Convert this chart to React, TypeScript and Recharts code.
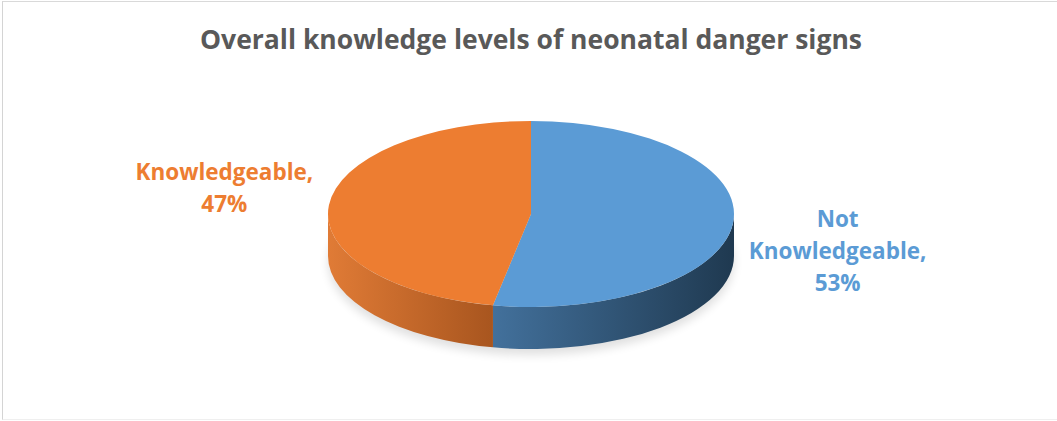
import { PieChart, Pie } from 'recharts';

const categories = ['Not Knowledgeable', 'Knowledgeable'];
const shares = [53, 47];
const sliceColors = ['#5B9BD5', '#ED7D31'];
const sideGradients = ['sideBlue', 'sideOrange'];

const data = categories.map((name, i) => ({ name, value: shares[i] }));

const WIDTH = 1057;
const HEIGHT = 421;
const CX = 531;
const CY = 214;
const RADIUS = 203;
const TILT = 0.458; // vertical squash of the disc
const DEPTH = 42; // thickness of the disc

const FONT = '"Open Sans", "Noto Sans", sans-serif';

const rad = (a: number) => (a * Math.PI) / 180;
const pt = (cx: number, cy: number, rx: number, ry: number, a: number, dy = 0) =>
  `${cx + rx * Math.cos(rad(a))},${cy - ry * Math.sin(rad(a)) + dy}`;

// draws one slice as a tilted disc wedge: front wall first, then the top face
function Slice3D(props: any) {
  const { cx, cy, outerRadius, startAngle, endAngle, index } = props;
  const rx = outerRadius;
  const ry = outerRadius * TILT;
  const hi = Math.max(startAngle, endAngle);
  const lo = Math.min(startAngle, endAngle);
  const large = hi - lo > 180 ? 1 : 0;

  const walls: string[] = [];
  for (const k of [-1, 0, 1]) {
    const a0 = Math.max(lo, -180 + 360 * k);
    const a1 = Math.min(hi, 360 * k);
    if (a1 - a0 > 0.01) {
      walls.push(
        `M${pt(cx, cy, rx, ry, a1)} A${rx},${ry} 0 0 1 ${pt(cx, cy, rx, ry, a0)} ` +
          `L${pt(cx, cy, rx, ry, a0, DEPTH)} A${rx},${ry} 0 0 0 ${pt(cx, cy, rx, ry, a1, DEPTH)} Z`
      );
    }
  }

  const top =
    `M${cx},${cy} L${pt(cx, cy, rx, ry, hi)} ` +
    `A${rx},${ry} 0 ${large} 1 ${pt(cx, cy, rx, ry, lo)} Z`;

  return (
    <g>
      {walls.map((d, i) => (
        <path key={i} d={d} fill={`url(#${sideGradients[index]})`} />
      ))}
      <path d={top} fill={sliceColors[index]} />
    </g>
  );
}

function renderLabel(props: any) {
  const { cx, cy, midAngle, percent, name, index } = props;
  const x = cx + (RADIUS + 105) * Math.cos(rad(midAngle));
  const yc = cy + 6 - 340 * Math.sin(rad(midAngle));
  const words = name.split(' ');
  const lines = [...words.slice(0, -1), `${words[words.length - 1]},`, `${Math.round(percent * 100)}%`];
  const first = yc - ((lines.length - 1) * 32) / 2 + 7.5;
  return (
    <text
      x={x}
      y={first}
      textAnchor="middle"
      fill={sliceColors[index]}
      fontFamily={FONT}
      fontWeight={700}
      fontSize={22.5}
    >
      {lines.map((line, i) => (
        <tspan key={i} x={x} dy={i === 0 ? 0 : 32}>
          {line}
        </tspan>
      ))}
    </text>
  );
}

export default function App() {
  return (
    <div
      style={{
        position: 'absolute',
        left: 0,
        top: 0,
        width: WIDTH,
        height: HEIGHT,
        background: '#fff',
        overflow: 'hidden',
      }}
    >
      <div
        style={{
          position: 'absolute',
          left: 2,
          top: 1,
          width: WIDTH,
          height: 417,
          borderLeft: '1px solid #d4d4d4',
          borderTop: '1px solid #d9d9d9',
          borderBottom: '1px solid #efefef',
        }}
      />
      <PieChart width={WIDTH} height={HEIGHT} margin={{ top: 0, right: 0, bottom: 0, left: 0 }}>
        <defs>
          <linearGradient id="sideBlue" gradientUnits="userSpaceOnUse" x1={CX - RADIUS} y1="0" x2={CX + RADIUS} y2="0">
            <stop offset="38%" stopColor="#44739f" />
            <stop offset="100%" stopColor="#1f3950" />
          </linearGradient>
          <linearGradient id="sideOrange" gradientUnits="userSpaceOnUse" x1={CX - RADIUS} y1="0" x2={CX + RADIUS} y2="0">
            <stop offset="0%" stopColor="#e07b36" />
            <stop offset="40%" stopColor="#a9561f" />
          </linearGradient>
          <filter id="discShadow" x="-20%" y="-20%" width="140%" height="140%">
            <feGaussianBlur stdDeviation="5" />
          </filter>
        </defs>
        <ellipse
          cx={CX}
          cy={CY + DEPTH + 6}
          rx={RADIUS}
          ry={RADIUS * TILT}
          fill="#000"
          opacity={0.12}
          filter="url(#discShadow)"
        />
        <text
          x={CX}
          y={49}
          textAnchor="middle"
          fill="#595959"
          fontFamily={FONT}
          fontWeight={700}
          fontSize={26.5}
        >
          Overall knowledge levels of neonatal danger signs
        </text>
        <Pie
          data={data}
          dataKey="value"
          nameKey="name"
          cx={CX}
          cy={CY}
          outerRadius={RADIUS}
          startAngle={90}
          endAngle={-270}
          shape={Slice3D}
          label={renderLabel}
          labelLine={false}
          isAnimationActive={false}
        />
      </PieChart>
    </div>
  );
}
